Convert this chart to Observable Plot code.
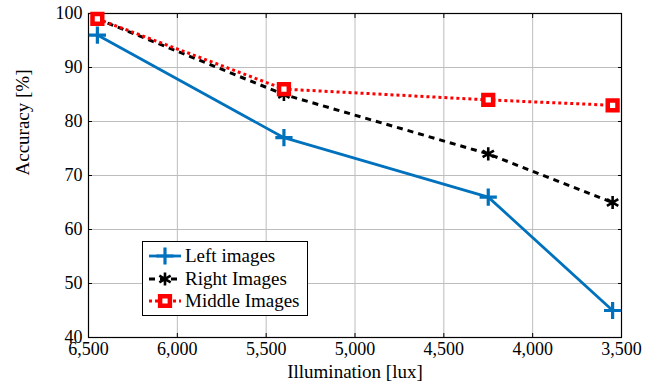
<!DOCTYPE html>
<html>
<head>
<meta charset="utf-8">
<script src="https://cdn.jsdelivr.net/npm/d3@7"></script>
<script src="https://cdn.jsdelivr.net/npm/@observablehq/plot@0.6"></script>
<style>
  html, body { margin: 0; padding: 0; background: #fff; }
  #wrap { position: relative; width: 656px; height: 391px; font-family: "Liberation Serif", serif; }
  #wrap svg, #wrap svg text { font-family: "Liberation Serif", serif !important; }
  #legend { position: absolute; left: 142px; top: 241px; width: 166px; height: 75px; background: #fff; border: 1px solid #000; box-sizing: border-box; font-family: "Liberation Serif", serif; font-size: 19px; color: #000; }
  .row { position: absolute; left: 0; height: 22px; display: flex; align-items: center; white-space: nowrap; }
  .row svg { width: 36px; height: 22px; }
  .row span { margin-left: 1px; }
</style>
</head>
<body>
<div id="wrap"></div>
<script>
const illumination = [6450, 5400, 4250, 3550];
const leftImages = [96, 77, 66, 45];
const rightImages = [99, 85, 74, 65];
const middleImages = [99, 86, 84, 83];
const seriesNames = ["Left images", "Right Images", "Middle Images"];
const xTicks = [6500, 6000, 5500, 5000, 4500, 4000, 3500];
const yTicks = [40, 50, 60, 70, 80, 90, 100];

const styles = {
  "Left images": {color: "#0072bd", dash: null, width: 2.8, symbol: "plus", r: 5.6, fill: "none", sw: 3.2},
  "Right Images": {color: "#000000", dash: "6,5", width: 3, symbol: "asterisk", r: 6.2, fill: "none", sw: 2.6},
  "Middle Images": {color: "#ff0000", dash: "3,3", width: 3, symbol: "square", r: 5.5, fill: "#fff", sw: 4.5}
};
const valuesBy = {"Left images": leftImages, "Right Images": rightImages, "Middle Images": middleImages};
const data = seriesNames.flatMap(s => illumination.map((x, i) => ({series: s, x, y: valuesBy[s][i]})));

const fmt = d3.format(",");
const blank = () => "";
const marks = [
  Plot.ruleX(xTicks, {stroke: "#bdbdbd", strokeWidth: 1}),
  Plot.ruleY(yTicks, {stroke: "#bdbdbd", strokeWidth: 1}),
  Plot.axisX({ticks: xTicks, tickFormat: fmt, tickSize: 0, tickPadding: 5, fontSize: 18, label: null}),
  Plot.axisY({ticks: yTicks, tickSize: 0, tickPadding: 6, fontSize: 18, label: null}),
  Plot.axisX({ticks: xTicks, tickFormat: blank, tickSize: -4, anchor: "bottom", label: null}),
  Plot.axisX({ticks: xTicks, tickFormat: blank, tickSize: -4, anchor: "top", label: null}),
  Plot.axisY({ticks: yTicks, tickFormat: blank, tickSize: -4, anchor: "left", label: null}),
  Plot.axisY({ticks: yTicks, tickFormat: blank, tickSize: -4, anchor: "right", label: null}),
  Plot.frame({stroke: "#000", strokeWidth: 1.2})
];
for (const s of seriesNames) {
  const st = styles[s];
  const d = data.filter(r => r.series === s);
  marks.push(Plot.line(d, {x: "x", y: "y", stroke: st.color, strokeWidth: st.width, strokeDasharray: st.dash, strokeLinecap: "butt"}));
}
for (const s of seriesNames) {
  const st = styles[s];
  const d = data.filter(r => r.series === s);
  marks.push(Plot.dot(d, {x: "x", y: "y", symbol: st.symbol, r: st.r, stroke: st.color, fill: st.fill, strokeWidth: st.sw}));
}

const chart = Plot.plot({
  width: 656,
  height: 391,
  marginLeft: 88,
  marginRight: 35,
  marginTop: 13,
  marginBottom: 54,
  style: {fontFamily: "'Liberation Serif', serif", fontSize: "18px", color: "#000", background: "#fff", overflow: "visible"},
  x: {domain: [6500, 3500], range: [88, 621]},
  y: {domain: [40, 100]},
  marks: [
    ...marks,
    Plot.text(["Illumination [lux]"], {frameAnchor: "bottom", dy: 40, fontSize: 19, text: d => d}),
    Plot.text(["Accuracy [%]"], {frameAnchor: "left", dx: -66, rotate: -90, fontSize: 19, text: d => d})
  ]
});
const wrap = document.getElementById("wrap");
wrap.appendChild(chart);

// legend
const legend = document.createElement("div");
legend.id = "legend";
const symMap = {plus: d3.symbolPlus, asterisk: d3.symbolAsterisk, square: d3.symbolSquare};
seriesNames.forEach((s, i) => {
  const st = styles[s];
  const row = document.createElement("div");
  row.className = "row";
  row.style.top = (3 + i * 22.5) + "px";
  row.style.left = "5px";
  const path = d3.symbol(symMap[st.symbol], Math.PI * st.r * st.r)();
  row.innerHTML = `<svg viewBox="0 0 36 22"><line x1="1" x2="33" y1="11" y2="11" stroke="${st.color}" stroke-width="${st.width}" ${st.dash ? `stroke-dasharray="${st.dash}"` : ""}/><path transform="translate(17,11)" d="${path}" fill="${st.fill}" stroke="${st.color}" stroke-width="${st.sw}"/></svg><span>${s}</span>`;
  legend.appendChild(row);
});
wrap.appendChild(legend);
</script>
</body>
</html>
